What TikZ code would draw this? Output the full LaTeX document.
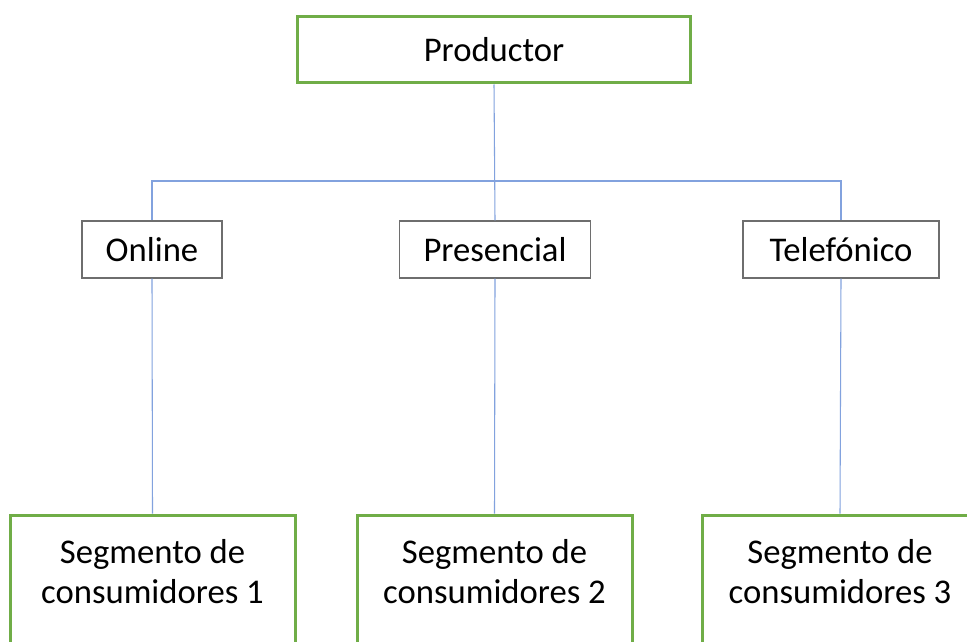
\documentclass[tikz,border=0pt]{standalone}
\usepackage{fontspec}
\setmainfont{Carlito}
\usetikzlibrary{positioning}

\definecolor{boxgreen}{RGB}{112,173,71}
\definecolor{linkblue}{RGB}{130,162,222}
\definecolor{boxgray}{RGB}{110,110,110}

\tikzset{
	mainbox/.style={draw=boxgreen, line width=2.25pt, inner sep=0pt, align=center},
	segbox/.style={mainbox, minimum height=105pt, text height=48pt, text depth=21pt},
	channel/.style={draw=boxgray, line width=1pt, inner sep=0pt, minimum height=42.75pt},
	link/.style={draw=linkblue, line width=0.8pt}
}

\begin{document}
\begin{tikzpicture}[x=0.75pt, y=-0.75pt, font=\fontsize{26}{30}\selectfont]
					\useasboundingbox (0,0) rectangle (967,642);
					\clip (0,0) rectangle (967,642);
					\fill[white] (0,0) rectangle (967,642);

					\node[mainbox, minimum width=294.75pt, minimum height=49.5pt] (prod) at (494,50) {Productor};

					\node[channel, minimum width=105pt] (online) at (152,249.5) {Online};
					\node[channel, minimum width=143pt] (pres) at (495,249.5) {Presencial};
					\node[channel, minimum width=147pt] (tele) at (841,249.5) {Telefónico};

					\node[segbox, minimum width=213.75pt] (seg1) at (152.5,585) {Segmento de\\consumidores 1};
					\node[segbox, minimum width=206.25pt] (seg2) at (494.5,585) {Segmento de\\consumidores 2};
					\node[segbox, minimum width=206.25pt] (seg3) at (840,585) {Segmento de\\consumidores 3};

					\coordinate (bus) at (494,181);

					\draw[link] (prod.south) -- (pres.north);
					\draw[link] (online.north) |- (bus) -| (tele.north);
					\draw[link] (online.south) -- (seg1.north);
					\draw[link] (pres.south) -- (seg2.north);
					\draw[link] (tele.south) -- (seg3.north);
				\end{tikzpicture}
\end{document}
